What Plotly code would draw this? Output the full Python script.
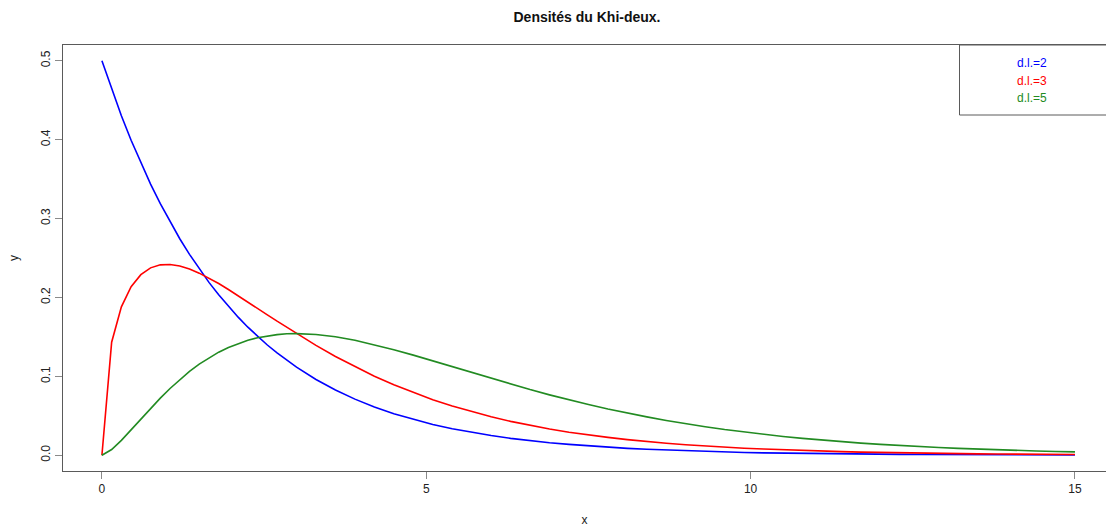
import plotly.graph_objects as go

# Abscissae of the sampled densities
x_vals = [0, 0.15, 0.3, 0.45, 0.6, 0.75, 0.9, 1.05, 1.2, 1.35, 1.5, 1.65, 1.8, 1.95,
          2.1, 2.25, 2.4, 2.55, 2.7, 2.85, 3.0, 3.3, 3.6, 3.9, 4.2, 4.5, 4.8, 5.1,
          5.4, 5.7, 6.0, 6.3, 6.6, 6.9, 7.2, 7.5, 7.8, 8.1, 8.4, 8.7, 9.0, 9.3,
          9.6, 9.9, 10.2, 10.5, 10.8, 11.1, 11.4, 11.7, 12.0, 12.3, 12.6, 12.9,
          13.2, 13.5, 13.8, 14.1, 14.4, 14.7, 15.0]

# Chi-squared density, 2 degrees of freedom
dens_dl2 = [0.5, 0.4639, 0.4304, 0.3993, 0.3704, 0.3436, 0.3188, 0.2958, 0.2744,
            0.2546, 0.2362, 0.2191, 0.2033, 0.1886, 0.1750, 0.1623, 0.1506, 0.1397,
            0.1296, 0.1203, 0.1116, 0.0960, 0.0826, 0.0711, 0.0612, 0.0527, 0.0454,
            0.0390, 0.0336, 0.0289, 0.0249, 0.0214, 0.0184, 0.0159, 0.0137, 0.0118,
            0.0101, 0.0087, 0.0075, 0.0065, 0.0056, 0.0048, 0.0041, 0.0035, 0.0030,
            0.0026, 0.0023, 0.0019, 0.0017, 0.0014, 0.0012, 0.0011, 0.0009, 0.0008,
            0.0007, 0.0006, 0.0005, 0.0004, 0.0004, 0.0003, 0.0003]

# Chi-squared density, 3 degrees of freedom
dens_dl3 = [0.0, 0.1433, 0.1881, 0.2137, 0.2289, 0.2375, 0.2413, 0.2418, 0.2398,
            0.2360, 0.2308, 0.2246, 0.2176, 0.2101, 0.2023, 0.1943, 0.1861, 0.1780,
            0.1699, 0.1620, 0.1542, 0.1392, 0.1251, 0.1121, 0.1001, 0.0892, 0.0793,
            0.0703, 0.0623, 0.0551, 0.0487, 0.0429, 0.0378, 0.0333, 0.0292, 0.0257,
            0.0226, 0.0198, 0.0173, 0.0152, 0.0133, 0.0116, 0.0102, 0.0089, 0.0078,
            0.0068, 0.0059, 0.0052, 0.0045, 0.0039, 0.0034, 0.0030, 0.0026, 0.0023,
            0.0020, 0.0017, 0.0015, 0.0013, 0.0011, 0.0010, 0.0009]

# Chi-squared density, 5 degrees of freedom
dens_dl5 = [0.0, 0.0072, 0.0188, 0.0321, 0.0458, 0.0594, 0.0724, 0.0846, 0.0959,
            0.1062, 0.1154, 0.1235, 0.1306, 0.1366, 0.1416, 0.1457, 0.1489, 0.1513,
            0.1529, 0.1539, 0.1542, 0.1531, 0.1501, 0.1457, 0.1402, 0.1338, 0.1269,
            0.1196, 0.1121, 0.1047, 0.0973, 0.0901, 0.0832, 0.0765, 0.0702, 0.0642,
            0.0586, 0.0534, 0.0486, 0.0441, 0.0399, 0.0361, 0.0325, 0.0293, 0.0264,
            0.0237, 0.0213, 0.0191, 0.0171, 0.0153, 0.0137, 0.0122, 0.0109, 0.0098,
            0.0087, 0.0077, 0.0069, 0.0061, 0.0054, 0.0048, 0.0043]

legend_labels = ["d.l.=2", "d.l.=3", "d.l.=5"]
colors = ["#0000FF", "#FF0000", "#228B22"]
x_ticks = [0, 5, 10, 15]
y_ticks = [0.0, 0.1, 0.2, 0.3, 0.4, 0.5]
y_ticklabels = ["0.0", "0.1", "0.2", "0.3", "0.4", "0.5"]

FONT = "Liberation Sans, Arial, sans-serif"
W, H = 1106, 527
M_L, M_R, M_T, M_B = 63, 0, 45, 56
plot_w = W - M_L - M_R
plot_h = H - M_T - M_B

fig = go.Figure()
for ys, col, name in zip([dens_dl2, dens_dl3, dens_dl5], colors, legend_labels):
    fig.add_trace(go.Scatter(x=x_vals, y=ys, mode="lines", name=name,
                             line=dict(color=col, width=1.6), showlegend=False))

# x scale: ticks 0..15 with 4% padding on the left; the right side runs off the page
px_per_unit = 64.87
x_min = -0.6
x_max = x_min + plot_w / px_per_unit

axis_col = "#5a5a5a"
fig.update_xaxes(range=[x_min, x_max], tickvals=x_ticks, ticks="outside", ticklen=7,
                 tickcolor="#8a8a8a", showline=True, linecolor=axis_col, linewidth=1,
                 mirror=True, showgrid=False, zeroline=False,
                 tickfont=dict(family=FONT, size=12, color="#222"),
                 title=dict(text="x", font=dict(family=FONT, size=12, color="#222"), standoff=22))
fig.update_yaxes(range=[-0.02, 0.52], tickvals=y_ticks, ticktext=y_ticklabels,
                 ticks="outside", ticklen=7, tickcolor="#8a8a8a", tickangle=-90,
                 showline=True, linecolor=axis_col, linewidth=1, mirror=False,
                 showgrid=False, zeroline=False,
                 tickfont=dict(family=FONT, size=12, color="#222"),
                 title=dict(text="y", font=dict(family=FONT, size=12, color="#222"), standoff=18))

# Legend box in the top-right corner, text only
box_left = (959.5 - M_L) / plot_w
box_bottom = (H - M_B - 115) / plot_h
fig.add_shape(type="rect", xref="paper", yref="paper", x0=box_left, x1=1.02,
              y0=box_bottom, y1=1.0, line=dict(color=axis_col, width=1),
              fillcolor="rgba(0,0,0,0)")
legend_text_x = (1032 - M_L) / plot_w
for i, (lab, col) in enumerate(zip(legend_labels, colors)):
    y_px = 63 + i * 17.5
    fig.add_annotation(xref="paper", yref="paper", x=legend_text_x,
                       y=(H - M_B - y_px) / plot_h, text=lab, showarrow=False,
                       xanchor="center", yanchor="middle",
                       font=dict(family=FONT, size=12, color=col))

fig.update_layout(
    width=W, height=H,
    margin=dict(l=M_L, r=M_R, t=M_T, b=M_B),
    paper_bgcolor="white", plot_bgcolor="white",
    title=dict(text="<b>Densités du Khi-deux.</b>", x=587 / W, xref="container",
               xanchor="center", y=1 - 17 / H, yref="container", yanchor="middle",
               font=dict(family=FONT, size=14, color="#111")),
)

fig.write_html("out.html")
